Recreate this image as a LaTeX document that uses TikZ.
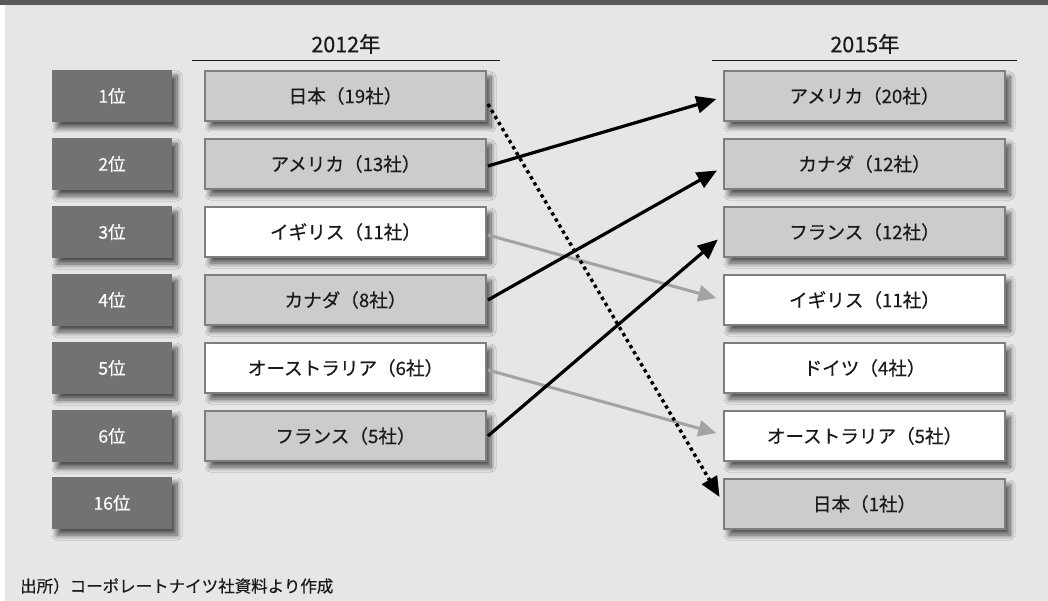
\documentclass[tikz,border=0pt]{standalone}
\usepackage{fontspec}
\setmainfont{Noto Sans CJK JP}
\newfontfamily\jpfont{Noto Sans CJK JP}[FakeBold=0.45]
\usetikzlibrary{arrows.meta,shadows.blur,calc}
\definecolor{bg}{HTML}{E6E6E6}
\definecolor{topbar}{HTML}{5A5859}
\definecolor{rankfill}{HTML}{727272}
\definecolor{boxgray}{HTML}{CBCCCB}
\definecolor{boxline}{HTML}{7E7E7E}
\definecolor{lightarrow}{HTML}{A3A3A3}
\definecolor{txt}{HTML}{1A1A1A}
\tikzset{
  shd/.style={blur shadow={shadow xshift=5pt, shadow yshift=-6pt, shadow blur steps=10, shadow blur radius=5pt, shadow opacity=65}},
  rankbox/.style={shd, fill=rankfill, draw=none, minimum width=120pt, minimum height=52pt, inner sep=0pt, text=white, font=\jpfont\fontsize{17.5}{20}\selectfont},
  cbox/.style={shd, draw=boxline, line width=1.8pt, minimum width=281pt, minimum height=50pt, inner sep=0pt, text=txt, font=\jpfont\fontsize{18.6}{21}\selectfont},
  gbox/.style={cbox, fill=boxgray},
  wbox/.style={cbox, fill=white},
  hdr/.style={text=txt, font=\jpfont\fontsize{21.5}{24}\selectfont, inner sep=0pt},
  tip/.style={-{Triangle[length=20pt,width=17pt]}},
  blackarrow/.style={tip, line width=3.2pt, black, shorten >=7pt},
  grayarrow/.style={-{Triangle[length=18pt,width=16pt]}, line width=3pt, lightarrow, shorten >=7pt},
  dotarrow/.style={tip, line width=3.4pt, black, dash pattern=on 3.4pt off 3.6pt, shorten >=7pt}
}
\begin{document}
\begin{tikzpicture}[x=1pt,y=-1pt]
\useasboundingbox (0,0) rectangle (1048,601);
\fill[white] (0,0) rectangle (1048,601);
\fill[bg] (5,5) rectangle (1048,601);
\fill[topbar] (0,0) rectangle (1048,4.7);

% headers
\node[hdr] (h1) at (346,44) {2012年};
\node[hdr] (h2) at (865,44) {2015年};
\coordinate (h1a) at (192,61); \coordinate (h1b) at (500,61);
\coordinate (h2a) at (712,61); \coordinate (h2b) at (1017,61);
\draw[line width=1pt, txt] (h1a) -- (h1b);
\draw[line width=1pt, txt] (h2a) -- (h2b);

% ranks
\node[rankbox] (r1) at (112,96) {1位};
\node[rankbox] (r2) at (112,164) {2位};
\node[rankbox] (r3) at (112,232) {3位};
\node[rankbox] (r4) at (112,300) {4位};
\node[rankbox] (r5) at (112,368) {5位};
\node[rankbox] (r6) at (112,436) {6位};
\node[rankbox] (r16) at (112,503) {16位};

% 2012
\node[gbox] (L1) at (345.5,96) {日本（19社）};
\node[gbox] (L2) at (345.5,164) {アメリカ（13社）};
\node[wbox] (L3) at (345.5,232) {イギリス（11社）};
\node[gbox] (L4) at (345.5,300) {カナダ（8社）};
\node[wbox] (L5) at (345.5,368) {オーストラリア（6社）};
\node[gbox] (L6) at (345.5,436) {フランス（5社）};

% 2015
\node[gbox] (R1) at (864.5,96) {アメリカ（20社）};
\node[gbox] (R2) at (864.5,164) {カナダ（12社）};
\node[gbox] (R3) at (864.5,232) {フランス（12社）};
\node[wbox] (R4) at (864.5,300) {イギリス（11社）};
\node[wbox] (R5) at (864.5,368) {ドイツ（4社）};
\node[wbox] (R6) at (864.5,436) {オーストラリア（5社）};
\node[gbox] (R7) at (864.5,504) {日本（1社）};

% connectors
\draw[grayarrow] ($(L3.east)+(1,3)$) -- (R4.west);
\draw[grayarrow] ($(L5.east)+(1,2)$) -- ($(R6.west)+(0,-1)$);
\draw[dotarrow] ($(L1.east)+(1,8)$) -- ($(R7.west)+(0,-1)$);
\draw[blackarrow] ($(L2.east)+(1,2)$) -- ($(R1.west)+(0,1)$);
\draw[blackarrow] ($(L4.east)+(1,0)$) -- ($(R2.west)+(0,3)$);
\draw[blackarrow] ($(L6.east)+(1,0)$) -- ($(R3.west)+(0,3)$);

% source
\node[anchor=west, inner sep=0pt, text=txt, font=\jpfont\fontsize{16.5}{19}\selectfont] (src) at (20,586) {出所）コーポレートナイツ社資料より作成};
\end{tikzpicture}
\end{document}
